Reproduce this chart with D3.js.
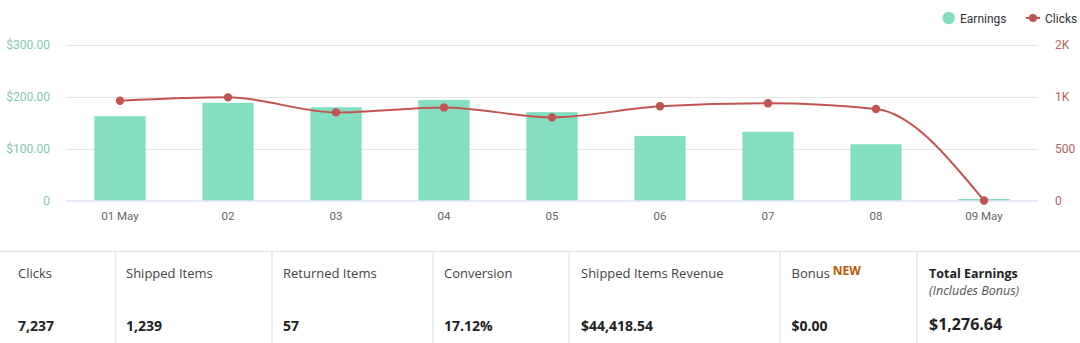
<!DOCTYPE html>
<html>
<head>
<meta charset="utf-8">
<script src="https://cdn.jsdelivr.net/npm/d3@7"></script>
<style>
  html, body { margin: 0; padding: 0; background: #fff; }
  svg { display: block; }
</style>
</head>
<body>
<svg id="chart" width="1080" height="343"></svg>
<script>
// ---- data ----
const categories = ["01 May", "02", "03", "04", "05", "06", "07", "08", "09 May"];
const earnings = [162.5, 188.5, 180, 194, 170.5, 124.5, 132.5, 108.5, 3];
const clicks = [962, 995, 850, 898, 802, 909, 938, 883, 0];
const earningsTicks = [0, 100, 200, 300];
const earningsTickLabels = ["0", "$100.00", "$200.00", "$300.00"];
const clicksTicks = [0, 500, 1000, 1500];
const clicksTickLabels = ["0", "500", "1K", "2K"];
const legendLabels = ["Earnings", "Clicks"];
const statLabels = ["Clicks", "Shipped Items", "Returned Items", "Conversion", "Shipped Items Revenue", "Bonus", "Total Earnings"];
const statValues = ["7,237", "1,239", "57", "17.12%", "$44,418.54", "$0.00", "$1,276.64"];

// ---- layout ----
const svg = d3.select("#chart");
const W = 1080;
const plot = { left: 66, right: 1038, top: 45, bottom: 200.5 };
const barColor = "#84dfc2";
const lineColor = "#c25450";
const chartFont = "Roboto, 'Open Sans', sans-serif";
const panelFont = "'Open Sans', 'Noto Sans', sans-serif";

const x = d3.scaleBand().domain(categories).range([plot.left, plot.right]).padding(0);
const yE = d3.scaleLinear().domain([0, 300]).range([plot.bottom, plot.top]);
const yC = d3.scaleLinear().domain([0, 1500]).range([plot.bottom, plot.top]);

// gridlines
svg.append("g").selectAll("line").data(earningsTicks.filter(d => d > 0)).join("line")
  .attr("x1", plot.left).attr("x2", plot.right)
  .attr("y1", d => Math.round(yE(d)) + 0.5).attr("y2", d => Math.round(yE(d)) + 0.5)
  .attr("stroke", "#e6e6e6").attr("stroke-width", 1);

// left axis
const leftAxis = d3.axisLeft(yE).tickValues(earningsTicks)
  .tickFormat((d, i) => earningsTickLabels[i]).tickSize(0).tickPadding(0);
const gL = svg.append("g").attr("transform", `translate(50,0)`).call(leftAxis);
gL.select(".domain").remove();
gL.selectAll("text").attr("fill", "#7fc8b0").style("font-family", chartFont).style("font-size", "12px");

// right axis
const rightAxis = d3.axisRight(yC).tickValues(clicksTicks)
  .tickFormat((d, i) => clicksTickLabels[i]).tickSize(0).tickPadding(0);
const gR = svg.append("g").attr("transform", `translate(1055,0)`).call(rightAxis);
gR.select(".domain").remove();
gR.selectAll("text").attr("fill", "#b5645e").style("font-family", chartFont).style("font-size", "12px");

// bars
const barW = x.bandwidth() * 0.475;
svg.append("g").selectAll("rect").data(categories).join("rect")
  .attr("x", (d) => x(d) + x.bandwidth() / 2 - barW / 2)
  .attr("y", (d, i) => yE(earnings[i]))
  .attr("width", barW)
  .attr("height", (d, i) => plot.bottom - yE(earnings[i]))
  .attr("fill", barColor);

// x axis
const xAxis = d3.axisBottom(x).tickSize(0).tickPadding(11);
const gX = svg.append("g").attr("transform", `translate(0,${plot.bottom})`).call(xAxis);
gX.select(".domain").attr("stroke", "#ccd6eb");
gX.selectAll("text").attr("fill", "#666").style("font-family", chartFont).style("font-size", "11.5px");

// line
const pts = categories.map((c, i) => [x(c) + x.bandwidth() / 2, yC(clicks[i])]);
svg.append("path").datum(pts)
  .attr("d", d3.line().curve(d3.curveMonotoneX))
  .attr("fill", "none").attr("stroke", lineColor).attr("stroke-width", 2);
svg.append("g").selectAll("circle").data(pts).join("circle")
  .attr("cx", d => d[0]).attr("cy", d => d[1]).attr("r", 4.2).attr("fill", lineColor);

// legend
const lg = svg.append("g").style("font-family", chartFont).style("font-size", "12px");
lg.append("circle").attr("cx", 948.7).attr("cy", 18).attr("r", 6.2).attr("fill", barColor);
lg.append("text").attr("x", 960).attr("y", 22.5).attr("fill", "#333").text(legendLabels[0]);
lg.append("line").attr("x1", 1026).attr("x2", 1040).attr("y1", 18).attr("y2", 18)
  .attr("stroke", lineColor).attr("stroke-width", 2);
lg.append("circle").attr("cx", 1033).attr("cy", 18).attr("r", 4).attr("fill", lineColor);
lg.append("text").attr("x", 1045).attr("y", 22.5).attr("fill", "#333").text(legendLabels[1]);

// ---- stats panel ----
const panelTop = 251.5;
const cellLefts = [0, 115.5, 272, 433, 569, 780, 917];
const textLefts = [18, 126, 283, 444, 581, 791.5, 929];
svg.append("line").attr("x1", 0).attr("x2", W).attr("y1", panelTop).attr("y2", panelTop)
  .attr("stroke", "#e7e7e7").attr("stroke-width", 1.5);
svg.append("g").selectAll("line").data(cellLefts.slice(1)).join("line")
  .attr("x1", d => d).attr("x2", d => d).attr("y1", panelTop).attr("y2", 343)
  .attr("stroke", "#e7e7e7").attr("stroke-width", 1.5);

const cells = svg.append("g").style("font-family", panelFont);
statLabels.forEach((lab, i) => {
  const cx = textLefts[i];
  const isTotal = i === statLabels.length - 1;
  const t = cells.append("text").attr("x", cx).attr("y", 277.5)
    .attr("fill", isTotal ? "#222" : "#444")
    .style("font-size", isTotal ? "12.5px" : "13px").style("font-weight", isTotal ? 700 : 400).text(lab);
  if (lab === "Bonus") {
    t.append("tspan").attr("dx", 3).attr("dy", -2.5).attr("fill", "#c45500")
      .style("font-size", "12px").style("font-weight", 700).text("NEW");
  }
  if (isTotal) {
    cells.append("text").attr("x", cx).attr("y", 294.5).attr("fill", "#555")
      .style("font-size", "12.5px").style("font-style", "italic").text("(Includes Bonus)");
  }
  cells.append("text").attr("x", cx).attr("y", isTotal ? 329.5 : 331)
    .attr("fill", "#222").style("font-weight", 700)
    .style("font-size", isTotal ? "16px" : "14px").text(statValues[i]);
});
</script>
</body>
</html>
